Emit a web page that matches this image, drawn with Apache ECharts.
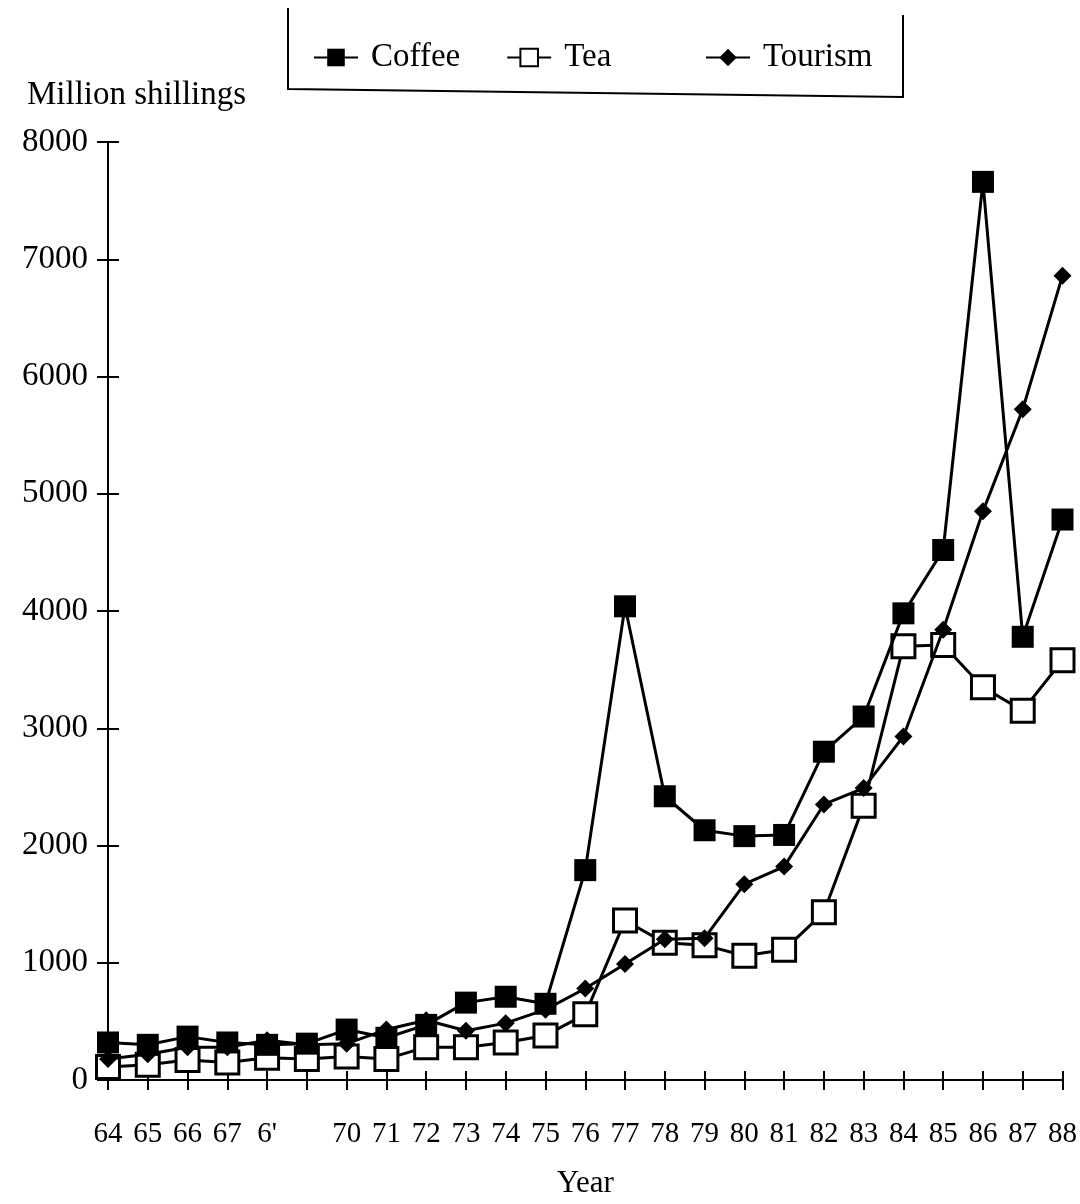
<!DOCTYPE html>
<html>
<head>
<meta charset="utf-8">
<script src="https://cdn.jsdelivr.net/npm/echarts@6/dist/echarts.min.js"></script>
<style>
html,body{margin:0;padding:0;background:#fff;}
#chart{width:1080px;height:1204px;}
</style>
</head>
<body>
<div id="chart"></div>
<script>
// Data
const years = ['64','65','66','67','68','69','70','71','72','73','74','75','76','77','78','79','80','81','82','83','84','85','86','87','88'];
const yearLabels = ['64','65','66','67',"6'",'','70','71','72','73','74','75','76','77','78','79','80','81','82','83','84','85','86','87','88'];
const coffee = [320, 300, 370, 320, 300, 310, 430, 360, 470, 660, 710, 650, 1790, 4040, 2420, 2130, 2080, 2090, 2800, 3100, 3980, 4520, 7660, 3780, 4780];
const tea = [110, 130, 170, 150, 190, 180, 200, 180, 280, 280, 320, 380, 560, 1360, 1170, 1150, 1060, 1110, 1430, 2340, 3700, 3710, 3350, 3150, 3580];
const tourism = [180, 220, 280, 280, 340, 300, 310, 430, 510, 420, 485, 600, 780, 990, 1200, 1210, 1670, 1820, 2350, 2490, 2930, 3840, 4850, 5720, 6860];
const yTicks = {min: 0, max: 8000, interval: 1000};

const FONT = '"Liberation Serif", "Times New Roman", serif';
const chart = echarts.init(document.getElementById('chart'), null, {renderer: 'canvas'});

const labelMap = {};
years.forEach((y, i) => { labelMap[y] = yearLabels[i]; });

const legendBase = {
  top: 36, itemWidth: 44, itemHeight: 22, itemGap: 46,
  textStyle: {fontFamily: FONT, fontSize: 33, color: '#000', padding: [0, 0, 0, 8]}
};

chart.setOption({
  backgroundColor: '#fff',
  animation: false,
  title: {
    text: 'Million shillings',
    left: 22, top: 74,
    textStyle: {fontFamily: FONT, fontSize: 33, fontWeight: 'normal', color: '#000'}
  },
  legend: [
    Object.assign({}, legendBase, {left: 308, data: ['Coffee', 'Tea']}),
    Object.assign({}, legendBase, {left: 700, data: ['Tourism']})
  ],
  graphic: [{
    type: 'polyline',
    shape: {points: [[288, 8], [288, 89], [903, 97], [903, 15]]},
    style: {stroke: '#000', lineWidth: 2, fill: null},
    silent: true
  }],
  grid: {left: 108, right: 12, top: 142, bottom: 121, containLabel: false},
  xAxis: [{
    type: 'category', data: years, boundaryGap: false,
    name: 'Year', nameLocation: 'middle', nameGap: 88,
    nameTextStyle: {fontFamily: FONT, fontSize: 31, color: '#000'},
    axisLine: {show: true, lineStyle: {color: '#000', width: 2}},
    axisTick: {show: true, length: 10, lineStyle: {color: '#000', width: 2}},
    axisLabel: {interval: 0, margin: 40, fontFamily: FONT, fontSize: 29, color: '#000',
      formatter: v => labelMap[v]},
    splitLine: {show: false}
  }, {
    type: 'category', data: years, boundaryGap: false, position: 'bottom',
    axisLine: {show: false},
    axisTick: {show: true, inside: true, length: 9, lineStyle: {color: '#000', width: 2}},
    axisLabel: {show: false}, splitLine: {show: false}
  }],
  yAxis: [{
    type: 'value', min: yTicks.min, max: yTicks.max, interval: yTicks.interval,
    axisLine: {show: true, lineStyle: {color: '#000', width: 2}},
    axisTick: {show: true, length: 11, lineStyle: {color: '#000', width: 2}},
    axisLabel: {margin: 20, fontFamily: FONT, fontSize: 33, color: '#000',
      formatter: v => String(v)},
    splitLine: {show: false}
  }, {
    type: 'value', min: yTicks.min, max: yTicks.max, interval: yTicks.interval, position: 'left',
    axisLine: {show: false},
    axisTick: {show: true, inside: true, length: 11, lineStyle: {color: '#000', width: 2}},
    axisLabel: {show: false}, splitLine: {show: false}
  }],
  series: [{
    name: 'Coffee', type: 'line', data: coffee, z: 3,
    symbol: 'rect', symbolSize: 22, showAllSymbol: true,
    lineStyle: {color: '#000', width: 3},
    itemStyle: {color: '#000'}
  }, {
    name: 'Tea', type: 'line', data: tea, z: 2,
    symbol: 'rect', symbolSize: 23, showAllSymbol: true,
    lineStyle: {color: '#000', width: 3},
    itemStyle: {color: '#fff', borderColor: '#000', borderWidth: 3}
  }, {
    name: 'Tourism', type: 'line', data: tourism, z: 4,
    symbol: 'diamond', symbolSize: 18, showAllSymbol: true,
    lineStyle: {color: '#000', width: 3},
    itemStyle: {color: '#000'}
  }]
});
</script>
</body>
</html>
